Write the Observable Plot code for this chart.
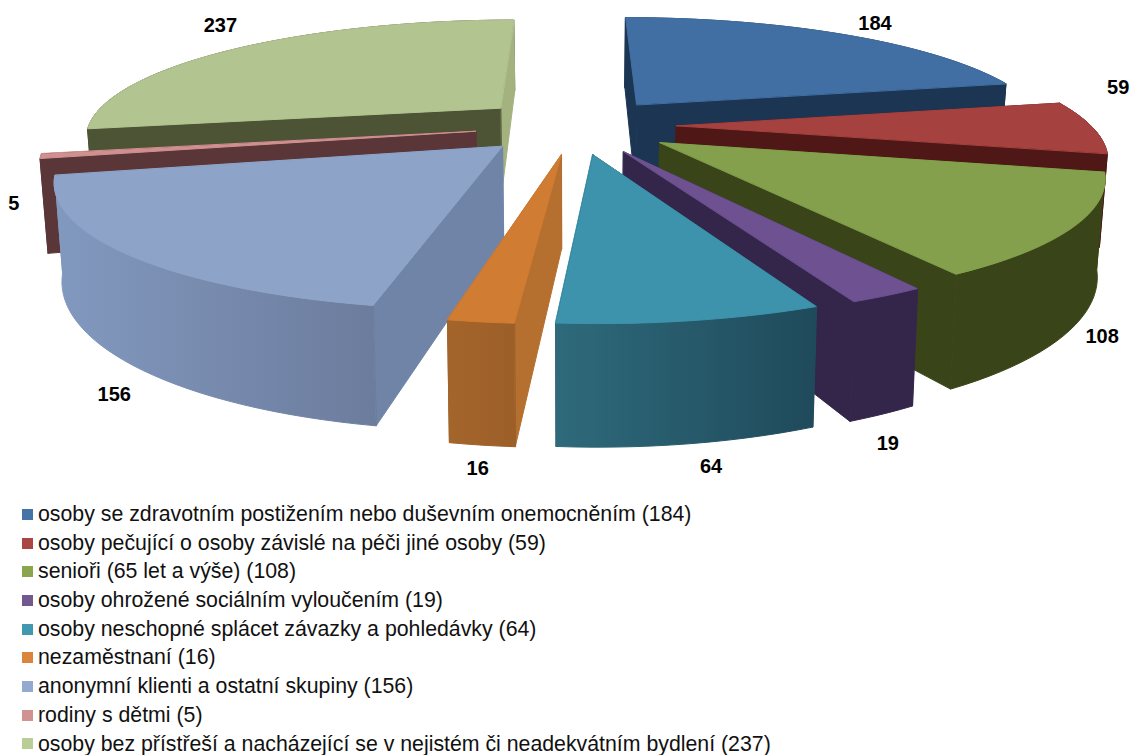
<!DOCTYPE html>
<html><head><meta charset="utf-8">
<script src="https://cdn.jsdelivr.net/npm/d3@7"></script>
<script src="https://cdn.jsdelivr.net/npm/@observablehq/plot@0.6"></script>
<style>
html,body{margin:0;padding:0;background:#fff;overflow:hidden}
svg{display:block}
#legend{font-family:"Liberation Sans",Arial,sans-serif;font-size:21.3px;color:#111}
.row{height:28.7px;line-height:28.7px;display:flex;align-items:center;white-space:nowrap}
.sw{width:11px;height:11px;margin-left:22px;margin-right:5px;flex:none}
</style></head><body>
<div id="chart"></div><div id="legend"></div>
<script>
const categories = ["osoby se zdravotním postižením nebo duševním onemocněním","osoby pečující o osoby závislé na péči jiné osoby","senioři (65 let a výše)","osoby ohrožené sociálním vyloučením","osoby neschopné splácet závazky a pohledávky","nezaměstnaní","anonymní klienti a ostatní skupiny","rodiny s dětmi","osoby bez přístřeší a nacházející se v nejistém či neadekvátním bydlení"];
const values = [184,59,108,19,64,16,156,5,237];
const legendColors = ["#4573a7","#aa4644","#89a54e","#71588f","#4298af","#db843d","#93a9cf","#d19392","#b9cd96"];
const topColors = ["#416fa3","#a5423f","#84a04c","#6d5190","#3d93ab","#d07c32","#8da4c8","#d09090","#b2c48f"];
const startWall = ["#1b3553","#4f1816","#394519","#33264a","#204a5a","#b56f2e","#6f84a6","#5a3638","#4d5436"];
const endWall = ["#1b3553","#4f1816","#394519","#33264a","#204a5a","#a0622a","#7f95b8","#5a3638","#a3b27e"];
const arcFrom = ["#1b3553","#4f1816","#394519","#33264a","#1f4a5b","#9c5f28","#6c7c9d","#5a3638","#4d5436"];
const arcTo = ["#1b3553","#4f1816","#394519","#33264a","#2e6a7b","#a4652b","#8299bf","#5a3638","#4d5436"];
const labelNudge = [[33,-11],[26,-40],[28,110],[1,148],[20,146],[-3,147],[-12,141],[-27,47],[-19,-22]];

// perspective view of the exploded pie
const cx=575, horizon=-385, ground=510, scaleU=101, persp=0.055, radius=4.1, wallH=89, shrink=0.985;
const project=(u,v,low)=>{
  const w=1/(1-persp*v);
  const k=low?shrink:1;
  return {x:cx+scaleU*u*w*k, y:horizon+ground*w+(low?wallH*w:0)};
};
const total=d3.sum(values);
let cum=0;
const slices=values.map((val,i)=>{
  const a0=cum/total*2*Math.PI; cum+=val; const a1=cum/total*2*Math.PI; const mid=(a0+a1)/2;
  return {i,val,a0,a1,mid,ou:Math.sin(mid),ov:-Math.cos(mid)};
});
const rim=(s,a,low,r=radius)=>project(s.ou+r*Math.sin(a),s.ov-r*Math.cos(a),low);
const apex=(s,low)=>project(s.ou,s.ov,low);
const poly=[]; let id=0;
const add=(pts,color)=>{id++;pts.forEach(p=>poly.push({x:p.x,y:p.y,id,color}));};
[...slices].sort((a,b)=>a.ov-b.ov).forEach(s=>{
  const n=Math.max(3,Math.ceil((s.a1-s.a0)/0.035));
  const ang=d3.range(n+1).map(k=>s.a0+(s.a1-s.a0)*k/n);
  const midV=a=>s.ov-radius/2*Math.cos(a);
  const faces=[
   {d:midV(s.a0),draw:()=>add([apex(s),rim(s,s.a0),rim(s,s.a0,true),apex(s,true)],startWall[s.i])},
   {d:midV(s.a1),draw:()=>add([apex(s),rim(s,s.a1),rim(s,s.a1,true),apex(s,true)],endWall[s.i])},
   {d:s.ov-radius*Math.cos(s.mid),draw:()=>add([...ang.map(a=>rim(s,a)),...[...ang].reverse().map(a=>rim(s,a,true))],`url(#arc${s.i})`)}
  ].sort((a,b)=>a.d-b.d);
  faces.forEach(f=>f.draw());
  add([apex(s),...ang.map(a=>rim(s,a))],topColors[s.i]);
});
const labels=slices.map(s=>{const p=rim(s,s.mid);return {x:p.x+labelNudge[s.i][0],y:p.y+labelNudge[s.i][1],t:String(s.val)};});

const gradients=()=>{
  const defs=d3.create("svg:defs");
  slices.forEach(s=>{
    const g=defs.append("linearGradient").attr("id",`arc${s.i}`).attr("x1",1).attr("x2",0).attr("y1",0).attr("y2",0);
    g.append("stop").attr("offset",0).attr("stop-color",arcFrom[s.i]);
    g.append("stop").attr("offset",1).attr("stop-color",arcTo[s.i]);
  });
  return defs.node();
};

const chart=Plot.plot({
  width:1133,height:500,margin:0,
  x:{domain:[0,1133],range:[0,1133],axis:null},
  y:{domain:[0,500],range:[0,500],axis:null},
  style:{background:"transparent"},
  marks:[
    gradients,
    Plot.line(poly,{x:"x",y:"y",z:"id",fill:"color",stroke:"color",strokeWidth:1,curve:"linear-closed"}),
    Plot.text(labels,{x:"x",y:"y",text:"t",fontFamily:"Liberation Sans, Arial, sans-serif",fontWeight:"bold",fontSize:20,fill:"#000"})
  ]
});
document.getElementById("chart").append(chart);
const lg=d3.select("#legend");
categories.forEach((c,i)=>{
  const r=lg.append("div").attr("class","row");
  r.append("span").attr("class","sw").style("background",legendColors[i]);
  r.append("span").text(`${c} (${values[i]})`);
});
</script>
</body></html>
